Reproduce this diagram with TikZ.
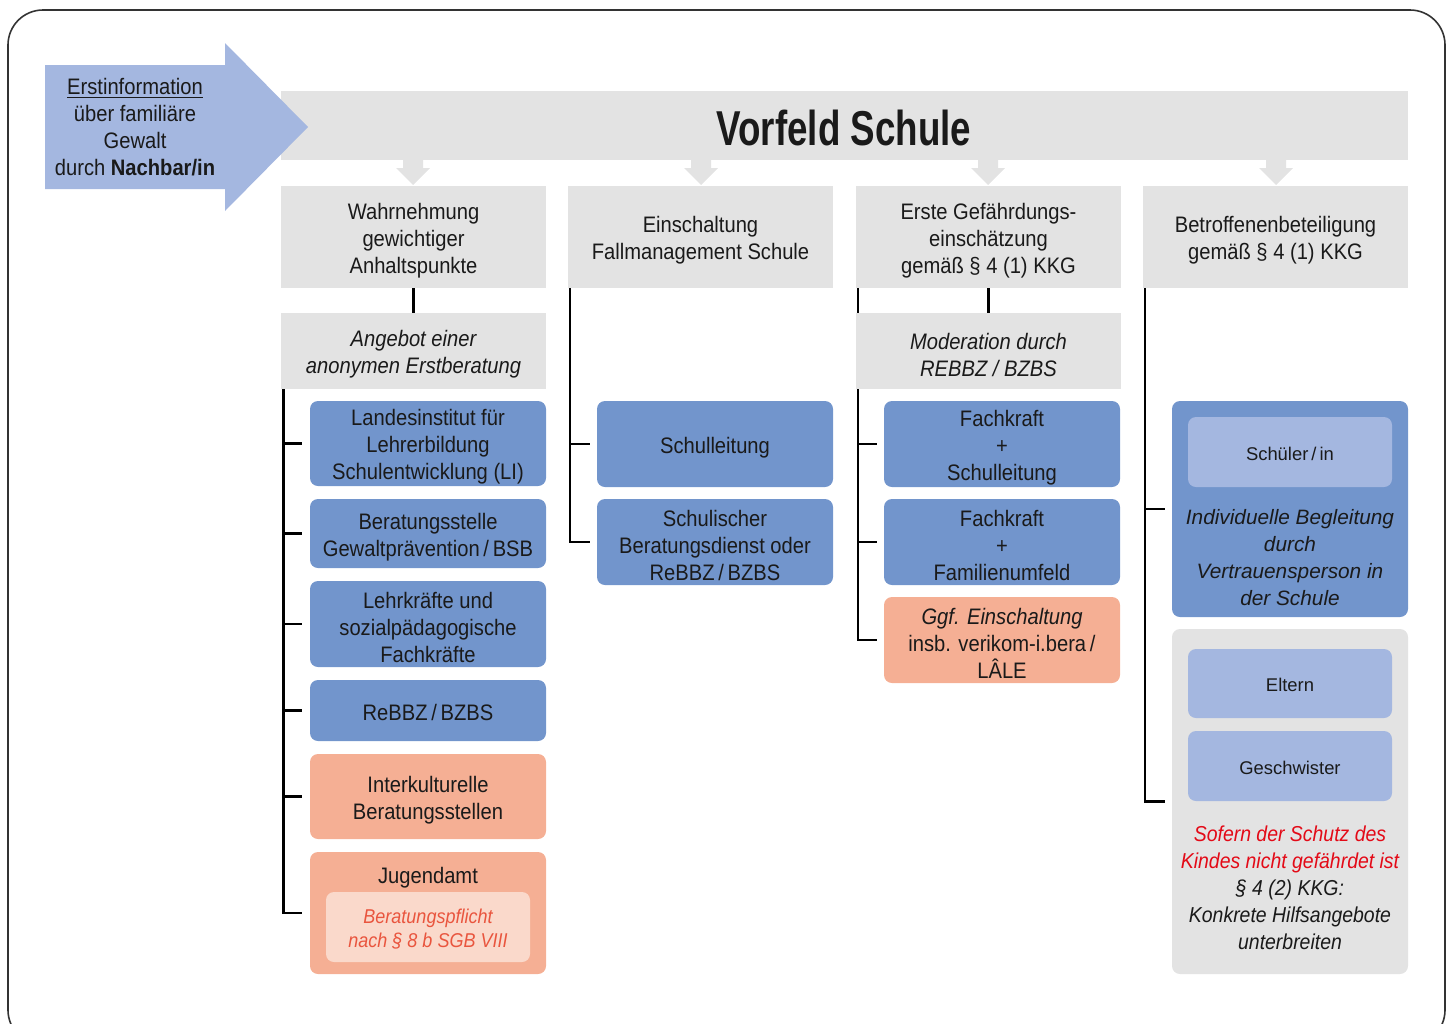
\documentclass[tikz,border=0pt]{standalone}
\usepackage{fontspec}
\setmainfont{Liberation Sans}[FakeStretch=0.9]
\newfontfamily\widefont{Liberation Sans}
\newfontfamily\titlefont{Liberation Sans}[FakeStretch=0.75]
\usetikzlibrary{calc}
\definecolor{boxgray}{HTML}{E3E3E3}
\definecolor{boxblue}{HTML}{7295CC}
\definecolor{lightblue}{HTML}{A4B7E0}
\definecolor{salmon}{HTML}{F5AF94}
\definecolor{lightsalmon}{HTML}{FAD9CB}
\definecolor{alertred}{HTML}{E30A17}
\definecolor{orangetext}{HTML}{E9553E}
\definecolor{txt}{HTML}{1A1A1A}
\definecolor{framecol}{HTML}{333333}
\begin{document}
\begin{tikzpicture}[x=0.5pt,y=-0.5pt,
  sz/.style 2 args={minimum width=#1*0.5pt, minimum height=#2*0.5pt},
  box/.style={inner sep=0pt},
  lab/.style={inner sep=0pt, align=center, text=txt, yshift=-1.8pt, font=\fontsize{11.2}{13.5}\selectfont},
  T/.style={label={[lab]center:{#1}}},
  TI/.style={label={[lab, font=\itshape\fontsize{11.2}{13.5}\selectfont]center:{#1}}},
  TW/.style={label={[lab, yshift=1pt, font=\widefont\fontsize{9.2}{11}\selectfont]center:{#1}}},
  graybox/.style={box, fill=boxgray},
  bluebox/.style={box, fill=boxblue, rounded corners=4pt},
  salmonbox/.style={box, fill=salmon, rounded corners=4pt},
  lsalmonbox/.style={box, fill=lightsalmon, rounded corners=4pt},
  lbluebox/.style={box, fill=lightblue, rounded corners=4pt},
  plaintext/.style={inner sep=0pt, align=center, text=txt},
  conn/.style={line width=1.4pt, draw=black}
]
\useasboundingbox (0,0) rectangle (1451,1023);
% outer frame
\draw[framecol, line width=0.8pt, rounded corners=17.5pt] (8,1045) -- (8,10) -- (1445,10) -- (1445,1045) -- cycle;

% banner
\node[graybox, sz={1127}{69}] (banner) at (844.5,125.5) {};
\node[plaintext, font=\titlefont\bfseries\fontsize{24.5}{28}\selectfont] (title) at (844,128) {Vorfeld Schule};

% small down arrows
\foreach \c in {413,701,988,1276}{
  \fill[boxgray] (\c-10,159) -- (\c+10,159) -- (\c+10,168) -- (\c+17,168) -- (\c,185) -- (\c-17,168) -- (\c-10,168) -- cycle;
}

% big blue arrow
\fill[lightblue] (45,65) -- (225,65) -- (225,43) -- (308,127) -- (225,211) -- (225,189) -- (45,189) -- cycle;
\node[plaintext, font=\fontsize{11.2}{13.5}\selectfont] (info) at (135,127)
  {\underline{Erstinformation}\\über familiäre\\Gewalt\\durch \textbf{Nachbar/in}};

% headers
\node[graybox, sz={265}{102}, T={Wahrnehmung\\gewichtiger\\Anhaltspunkte}] (h1) at (413.5,237) {};
\node[graybox, sz={265}{102}, T={Einschaltung\\Fallmanagement Schule}] (h2) at (700.5,237) {};
\node[graybox, sz={265}{102}, T={Erste Gefährdungs-\\einschätzung\\gemäß § 4 (1) KKG}] (h3) at (988.5,237) {};
\node[graybox, sz={265}{102}, T={Betroffenenbeteiligung\\gemäß § 4 (1) KKG}] (h4) at (1275.5,237) {};

% connectors from headers to sub headers
\draw[conn] (h1.south) -- (413.5,313);
\draw[conn] (h3.south) -- (988.5,313);

% trunk start coordinates
\coordinate (t1) at (283.5,389);
\coordinate (t2) at (570,288);
\coordinate (t3) at (858,288);
\coordinate (t4) at (1145,288);

% column 1 boxes
\node[bluebox, sz={236}{85}, T={Landesinstitut für\\Lehrerbildung\\Schulentwicklung (LI)}] (li) at (428,443.5) {};
\node[bluebox, sz={236}{69}, T={Beratungsstelle\\Gewaltprävention\,/\,BSB}] (bsb) at (428,533.5) {};
\node[bluebox, sz={236}{86}, T={Lehrkräfte und\\sozialpädagogische\\Fachkräfte}] (lk) at (428,624) {};
\node[bluebox, sz={236}{61}, label={[lab, yshift=0.8pt]center:{ReBBZ\,/\,BZBS}}] (rebbz) at (428,710.5) {};
\node[salmonbox, sz={236}{85}, T={Interkulturelle\\Beratungsstellen}] (ik) at (428,796.5) {};
\node[salmonbox, sz={236}{122}] (jug) at (428,913) {};
\node[plaintext, font=\fontsize{11.2}{13.5}\selectfont] (jugt) at (428,878) {Jugendamt};
\node[lsalmonbox, sz={204}{70}, label={[lab, yshift=0.8pt, text=orangetext, font=\itshape\fontsize{10}{12}\selectfont]center:{Beratungspflicht\\nach § 8 b SGB VIII}}] (jugi) at (428,927) {};

% column 2 boxes
\node[bluebox, sz={236}{86}, T={Schulleitung}] (sl) at (715,444) {};
\node[bluebox, sz={236}{86}, T={Schulischer\\Beratungsdienst oder\\ReBBZ\,/\,BZBS}] (sbd) at (715,542) {};

% column 3 boxes
\node[bluebox, sz={236}{86}, T={Fachkraft\\+\\Schulleitung}] (fs) at (1002,444) {};
\node[bluebox, sz={236}{86}, T={Fachkraft\\+\\Familienumfeld}] (ff) at (1002,542) {};
\node[salmonbox, sz={236}{86}, T={\textit{Ggf. Einschaltung}\\insb. verikom-i.bera\,/\\LÂLE}] (ggf) at (1002,640) {};

% column 4 boxes
\node[bluebox, sz={236}{216}] (bb) at (1290,509) {};
\node[lbluebox, sz={204}{70}, TW={Schüler\,/\,in}] (sch) at (1290,452) {};
\node[plaintext, font=\widefont\itshape\fontsize{10.4}{13.5}\selectfont] (bbt) at (1290,557.5) {Individuelle Begleitung\\durch\\Vertrauensperson in\\der Schule};
\node[graybox, rounded corners=4pt, sz={236}{345}] (gb) at (1290,801.5) {};
\node[lbluebox, sz={204}{69}, TW={Eltern}] (elt) at (1290,683.5) {};
\node[lbluebox, sz={204}{70}, TW={Geschwister}] (ges) at (1290,766) {};
\node[plaintext, font=\itshape\fontsize{10.8}{13.5}\selectfont] (gbt) at (1290,888)
  {\textcolor{alertred}{Sofern der Schutz des}\\\textcolor{alertred}{Kindes nicht gefährdet ist}\\§ 4 (2) KKG:\\Konkrete Hilfsangebote\\unterbreiten};

% trunks and ticks
\foreach \n in {li,bsb,lk,rebbz,ik,jug}{
  \draw[conn] (t1) |- ($(\n.west)+(-8,0)$);
}
\foreach \n in {sl,sbd}{
  \draw[conn] (t2) |- ($(\n.west)+(-7,0)$);
}
\foreach \n in {fs,ff,ggf}{
  \draw[conn] (t3) |- ($(\n.west)+(-7,0)$);
}
\foreach \n in {bb,gb}{
  \draw[conn] (t4) |- ($(\n.west)+(-7,0)$);
}

% sub headers (drawn over the trunks)
\node[graybox, sz={265}{76}, TI={Angebot einer\\anonymen Erstberatung}] (s1) at (413.5,351) {};
\node[graybox, sz={265}{76}, TI={Moderation durch\\REBBZ / BZBS}] (s3) at (988.5,351) {};
\end{tikzpicture}
\end{document}
